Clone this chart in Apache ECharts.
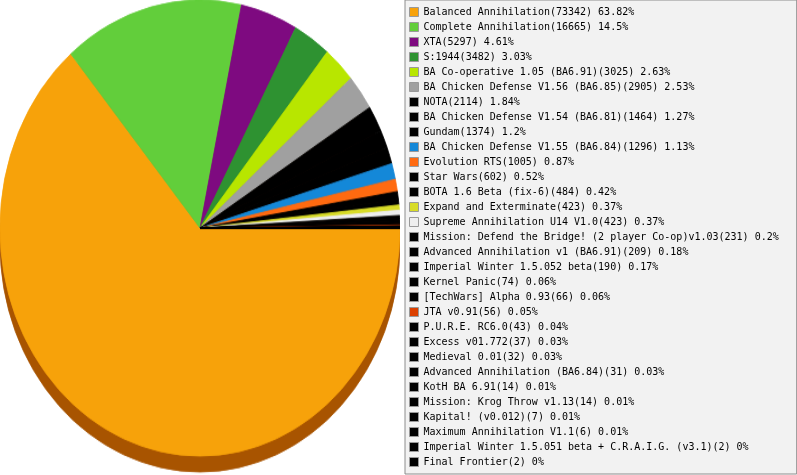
<!DOCTYPE html>
<html>
<head>
<meta charset="utf-8">
<script src="https://cdn.jsdelivr.net/npm/echarts@6/dist/echarts.min.js"></script>
<style>
  html, body { margin: 0; padding: 0; background: #fff; overflow: hidden; }
  #pie { position: absolute; left: 0; top: 0; width: 400px; height: 420px; transform: scaleY(1.14); transform-origin: 0 0; }
  #legend { position: absolute; left: 0; top: 0; width: 797px; height: 475px; }
</style>
</head>
<body>
<div id="pie"></div>
<div id="legend"></div>
<script>
// mods and how many games were played with each
const mods = [
  'Balanced Annihilation', 'Complete Annihilation', 'XTA', 'S:1944',
  'BA Co-operative 1.05 (BA6.91)', 'BA Chicken Defense V1.56 (BA6.85)', 'NOTA',
  'BA Chicken Defense V1.54 (BA6.81)', 'Gundam', 'BA Chicken Defense V1.55 (BA6.84)',
  'Evolution RTS', 'Star Wars', 'BOTA 1.6 Beta (fix-6)', 'Expand and Exterminate',
  'Supreme Annihilation U14 V1.0', 'Mission: Defend the Bridge! (2 player Co-op)v1.03',
  'Advanced Annihilation v1 (BA6.91)', 'Imperial Winter 1.5.052 beta', 'Kernel Panic',
  '[TechWars] Alpha 0.93', 'JTA v0.91', 'P.U.R.E. RC6.0', 'Excess v01.772',
  'Medieval 0.01', 'Advanced Annihilation (BA6.84)', 'KotH BA 6.91',
  'Mission: Krog Throw v1.13', 'Kapital! (v0.012)', 'Maximum Annihilation V1.1',
  'Imperial Winter 1.5.051 beta + C.R.A.I.G. (v3.1)', 'Final Frontier'
]
const games = [
  73342, 16665, 5297, 3482, 3025, 2905, 2114, 1464, 1374, 1296,
  1005, 602, 484, 423, 423, 231, 209, 190, 74, 66,
  56, 43, 37, 32, 31, 14, 14, 7, 6, 2, 2
]
// percentages as printed in the legend
const shares = [
  '63.82', '14.5', '4.61', '3.03', '2.63', '2.53', '1.84', '1.27', '1.2', '1.13',
  '0.87', '0.52', '0.42', '0.37', '0.37', '0.2', '0.18', '0.17', '0.06', '0.06',
  '0.05', '0.04', '0.03', '0.03', '0.03', '0.01', '0.01', '0.01', '0.01', '0', '0'
]
const colors = [
  '#f7a20a', '#62ce3b', '#7e0a80', '#2e9231', '#b8e600', '#a0a0a0', '#000000',
  '#000000', '#000000', '#1488d8', '#ff6a10', '#000000', '#000000', '#d8dc28',
  '#eeeeee', '#000000', '#000000', '#000000', '#000000', '#000000', '#dc4000',
  '#000000', '#000000', '#000000', '#000000', '#000000', '#000000', '#000000',
  '#000000', '#000000', '#000000'
]

// border in the slice's own colour hides the seams between slices
const items = mods.map((m, i) => ({
  name: m, value: games[i],
  itemStyle: { color: colors[i], borderColor: colors[i], borderWidth: 0.8 }
}))
const labelOf = {}
mods.forEach((m, i) => { labelOf[m] = m + '(' + games[i] + ') ' + shares[i] + '%' })

// pie (stretched vertically by css to get the oval look)
const pieChart = echarts.init(document.getElementById('pie'))
const pieBase = {
  type: 'pie',
  radius: 200,
  startAngle: 0,
  clockwise: true,
  minAngle: 0,
  silent: true,
  animation: false,
  label: { show: false },
  labelLine: { show: false }
}
pieChart.setOption({
  series: [
    // brown edge under the disc
    Object.assign({}, pieBase, {
      center: [200, 214],
      data: games.map((g, i) => ({ name: mods[i], value: g })),
      itemStyle: { color: '#a85400', borderColor: '#a85400', borderWidth: 0.8 }
    }),
    Object.assign({}, pieBase, {
      center: [200, 200],
      data: items
    })
  ]
})

// legend box on the right
const legendChart = echarts.init(document.getElementById('legend'))
legendChart.setOption({
  legend: {
    orient: 'vertical',
    left: 405,
    top: 0,
    padding: [7, 18, 7, 4],
    itemGap: 5,
    itemWidth: 9,
    itemHeight: 9,
    icon: 'rect',
    selectedMode: false,
    backgroundColor: '#f2f2f2',
    borderColor: '#8c8c8c',
    borderWidth: 1,
    itemStyle: { borderColor: '#999', borderWidth: 1 },
    textStyle: { fontFamily: 'DejaVu Sans Mono', fontSize: 10, lineHeight: 10, color: '#000' },
    formatter: name => labelOf[name],
    data: mods
  },
  series: [{
    type: 'pie',
    center: [-500, -500],
    radius: 10,
    silent: true,
    animation: false,
    label: { show: false },
    data: items.map(d => ({ name: d.name, value: d.value, itemStyle: { color: d.itemStyle.color } }))
  }]
})
</script>
</body>
</html>
